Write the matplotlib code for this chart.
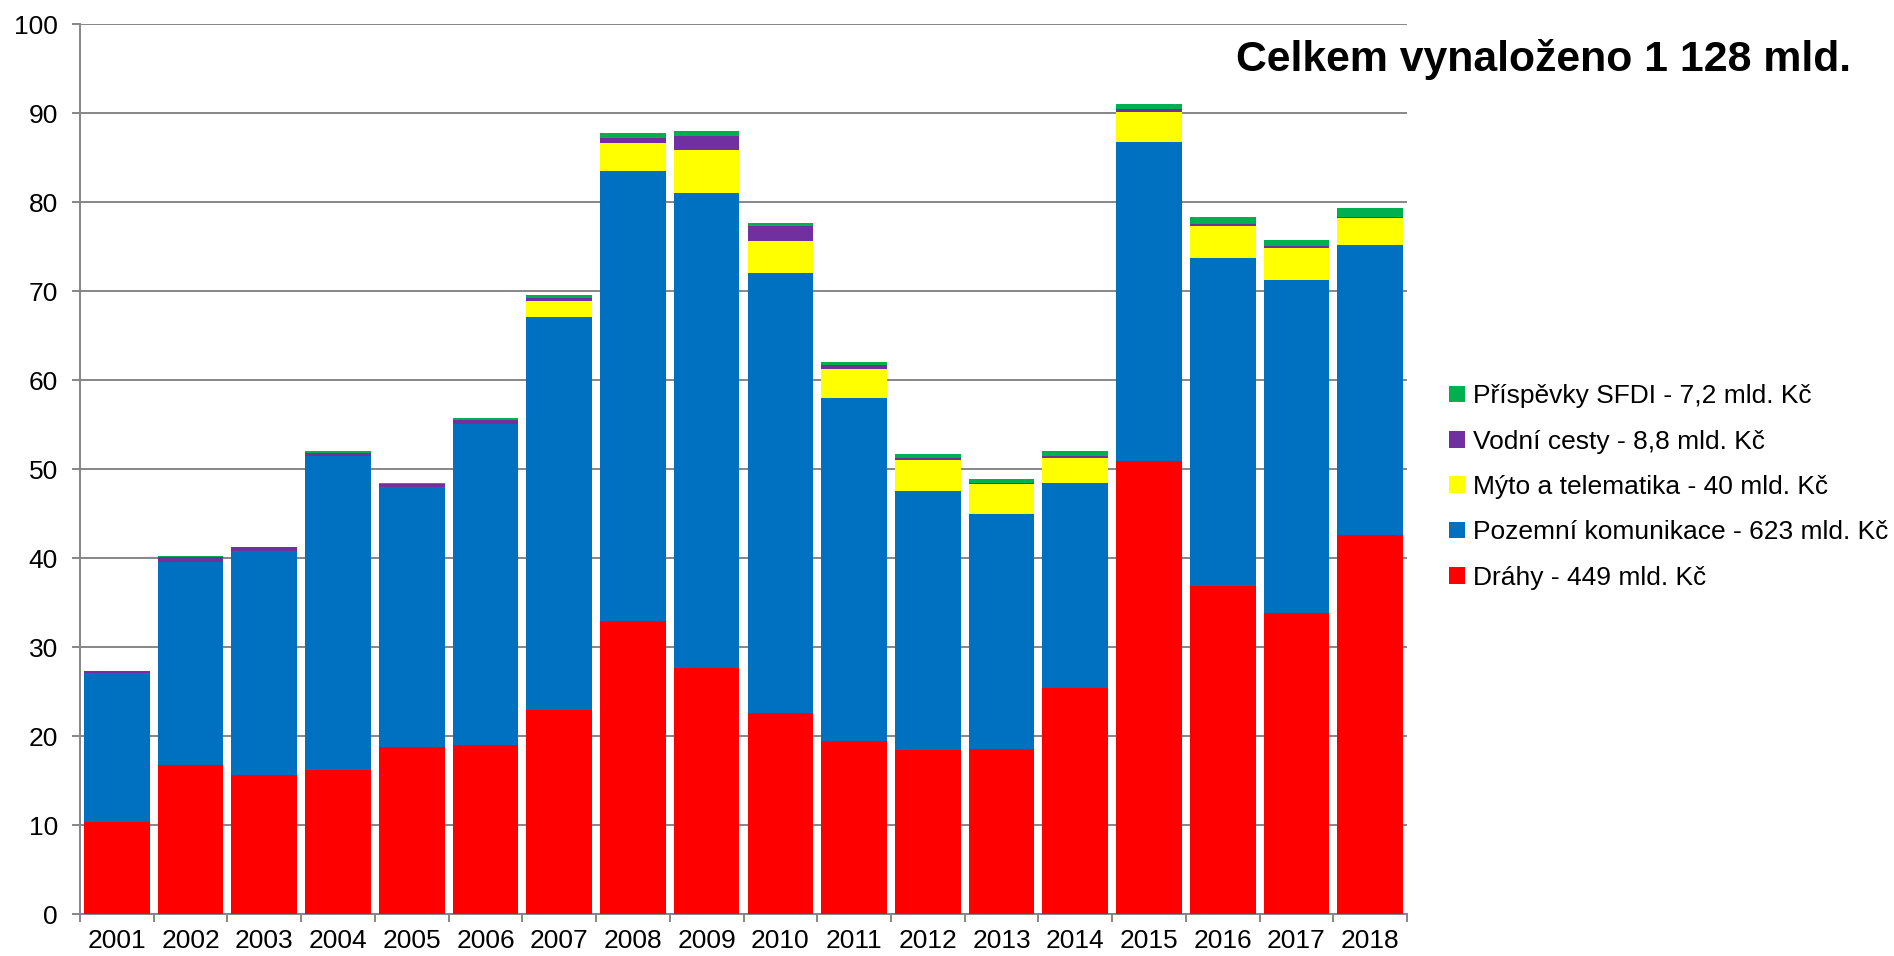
import numpy as np
import matplotlib.pyplot as plt

plt.rcParams['font.family'] = ['Liberation Sans', 'DejaVu Sans']

years = ['2001', '2002', '2003', '2004', '2005', '2006', '2007', '2008', '2009',
         '2010', '2011', '2012', '2013', '2014', '2015', '2016', '2017', '2018']

drahy = [10.3, 16.7, 15.6, 16.2, 18.8, 19.0, 22.9, 32.9, 27.7,
         22.6, 19.5, 18.4, 18.6, 25.4, 50.9, 36.9, 33.8, 42.6]
pozemni = [16.8, 22.9, 25.2, 35.3, 29.2, 36.1, 44.2, 50.6, 53.4,
           49.5, 38.5, 29.1, 26.4, 23.0, 35.9, 36.8, 37.5, 32.6]
myto = [0.0, 0.0, 0.0, 0.0, 0.0, 0.0, 1.85, 3.2, 4.8,
        3.6, 3.3, 3.5, 3.3, 2.9, 3.3, 3.6, 3.55, 3.0]
vodni = [0.2, 0.5, 0.4, 0.3, 0.3, 0.4, 0.35, 0.55, 1.5,
         1.6, 0.4, 0.3, 0.2, 0.2, 0.4, 0.3, 0.2, 0.2]
sfdi = [0.0, 0.1, 0.1, 0.2, 0.2, 0.3, 0.3, 0.55, 0.6,
        0.35, 0.3, 0.4, 0.4, 0.5, 0.6, 0.8, 0.75, 1.0]

series = [
    ('Dráhy - 449 mld. Kč', drahy, '#FF0000'),
    ('Pozemní komunikace - 623 mld. Kč', pozemni, '#0070C0'),
    ('Mýto a telematika - 40 mld. Kč', myto, '#FFFF00'),
    ('Vodní cesty - 8,8 mld. Kč', vodni, '#7030A0'),
    ('Příspěvky SFDI - 7,2 mld. Kč', sfdi, '#00B050'),
]

fig = plt.figure(figsize=(18.94, 9.56), dpi=100)
ax = fig.add_axes([80 / 1894, 42 / 956, (1407 - 80) / 1894, (914 - 24.4) / 956])

x = np.arange(len(years))
bottom = np.zeros(len(years))
handles = []
for label, vals, color in series:
    vals = np.array(vals)
    h = ax.bar(x, vals, width=0.89, bottom=bottom, color=color, label=label,
               edgecolor='none', zorder=3)
    handles.append(h)
    bottom += vals

ax.set_xlim(-0.5, len(years) - 0.5)
ax.set_ylim(0, 100)
ax.set_yticks(np.arange(0, 101, 10))
ax.set_xticks(x)
ax.set_xticklabels(years)
ax.set_xticks(np.arange(-0.5, len(years), 1), minor=True)

grid_c = '#868686'
ax.yaxis.grid(True, color=grid_c, linewidth=1.4, zorder=0)
ax.set_axisbelow(True)
for s in ['top', 'right']:
    ax.spines[s].set_visible(False)
for s in ['left', 'bottom']:
    ax.spines[s].set_color(grid_c)
    ax.spines[s].set_linewidth(1.4)

ax.tick_params(axis='y', length=6, width=1.4, color=grid_c, pad=10, labelsize=19)
ax.tick_params(axis='x', which='major', length=0, pad=11, labelsize=19)
ax.tick_params(axis='x', which='minor', length=6, width=1.4, color=grid_c)

fig.text(1851 / 1894, 1 - 60 / 956, 'Celkem vynaloženo 1 128 mld.',
         ha='right', va='center', fontsize=30.8, fontweight='bold')

leg = fig.legend(handles[::-1], [s[0] for s in series][::-1],
                 loc='center left', bbox_to_anchor=(1425 / 1894, 1 - 487 / 956),
                 frameon=False, fontsize=19, handlelength=0.6, handleheight=0.6,
                 handletextpad=0.3, labelspacing=0.81)

fig.savefig('out.png', dpi=100)
